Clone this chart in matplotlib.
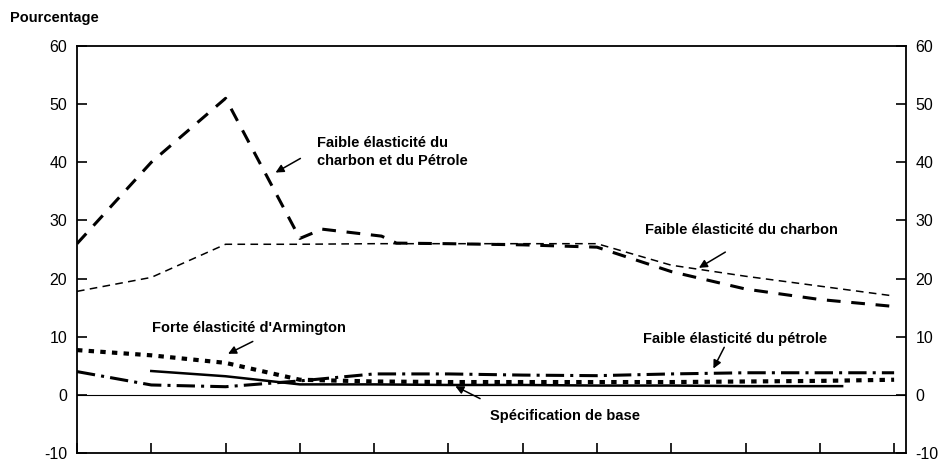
import matplotlib
matplotlib.use("Agg")
import matplotlib.pyplot as plt
import numpy as np

plt.rcParams['font.family'] = ['Liberation Sans', 'DejaVu Sans']
plt.rcParams['axes.unicode_minus'] = False

# positions along the horizontal axis (one per tick, no labels in the original)
x = [0, 1, 2, 3, 4, 5, 6, 7, 8, 9, 10, 11]

# Faible élasticité du charbon et du Pétrole
x_cp = [0, 1, 2, 3, 3.3, 4.1, 4.3, 5, 6, 7, 8, 9, 10, 11]
y_cp = [26.0, 40.0, 51.0, 26.9, 28.5, 27.3, 26.1, 26.0, 25.8, 25.4, 21.2, 18.2, 16.4, 15.2]

# Faible élasticité du charbon
y_charbon = [17.8, 20.2, 25.9, 25.9, 26.0, 26.0, 26.0, 26.0, 22.3, 20.4, 18.7, 17.0]

# Forte élasticité d'Armington
y_arm = [7.7, 6.8, 5.5, 2.6, 2.3, 2.2, 2.2, 2.2, 2.2, 2.3, 2.4, 2.6]

# Faible élasticité du pétrole
y_petrole = [4.0, 1.7, 1.4, 2.4, 3.6, 3.6, 3.4, 3.3, 3.6, 3.8, 3.8, 3.8]

# Spécification de base
x_base = [1, 2, 3, 4, 5, 6, 7, 8, 9, 10, 10.3]
y_base = [4.1, 3.2, 1.8, 1.8, 1.7, 1.7, 1.6, 1.6, 1.5, 1.5, 1.5]

yticks = [-10, 0, 10, 20, 30, 40, 50, 60]

fig = plt.figure(figsize=(9.46, 4.61), dpi=100)
ax = fig.add_axes([77/946, 8/461, (906-77)/946, (453-46)/461])

ax.axhline(0, color='black', lw=0.8)
ax.plot(x_cp, y_cp, color='black', lw=2.2, dashes=(4.5, 3.5))
ax.plot(x, y_charbon, color='black', lw=1.1, dashes=(5, 3.5))
ax.plot(x, y_arm, color='black', lw=3, dashes=(1.3, 1.5))
ax.plot(x, y_petrole, color='black', lw=2.2, dashes=(6, 2, 1, 2))
ax.plot(x_base, y_base, color='black', lw=1.8)

ax.set_xlim(0, 11.16)
ax.set_ylim(-10, 60)
ax.set_xticks(x)
ax.set_xticklabels([])
ax.set_yticks(yticks)
ax.tick_params(axis='x', direction='in', length=7, width=1.2)
ax.tick_params(axis='y', direction='in', length=7, width=1.2, right=True,
               labelright=True, labelsize=11.5, pad=7)
for s in ax.spines.values():
    s.set_linewidth(1.3)

bold = dict(fontsize=10.5, fontweight='bold', va='center', ha='left')
arrow = dict(arrowstyle='-|>', color='black', lw=1.1, mutation_scale=12)

ax.text(3.23, 41.8, "Faible élasticité du\ncharbon et du Pétrole", linespacing=1.35, **bold)
ax.annotate('', xy=(2.64, 38.0), xytext=(3.04, 40.9), arrowprops=arrow)

ax.text(7.64, 28.3, "Faible élasticité du charbon", **bold)
ax.annotate('', xy=(8.34, 21.6), xytext=(8.76, 24.8), arrowprops=arrow)

ax.text(1.01, 11.5, "Forte élasticité d'Armington", **bold)
ax.annotate('', xy=(2.0, 6.85), xytext=(2.40, 9.4), arrowprops=arrow)

ax.text(7.62, 9.6, "Faible élasticité du pétrole", **bold)
ax.annotate('', xy=(8.55, 4.1), xytext=(8.73, 8.6), arrowprops=arrow)

ax.text(5.56, -3.6, "Spécification de base", **bold)
ax.annotate('', xy=(5.06, 1.7), xytext=(5.46, -0.86), arrowprops=arrow)

fig.text(10/946, 1 - 18/461, "Pourcentage", fontsize=10.5, fontweight='bold',
         ha='left', va='center')

fig.savefig("out.png", dpi=100)
